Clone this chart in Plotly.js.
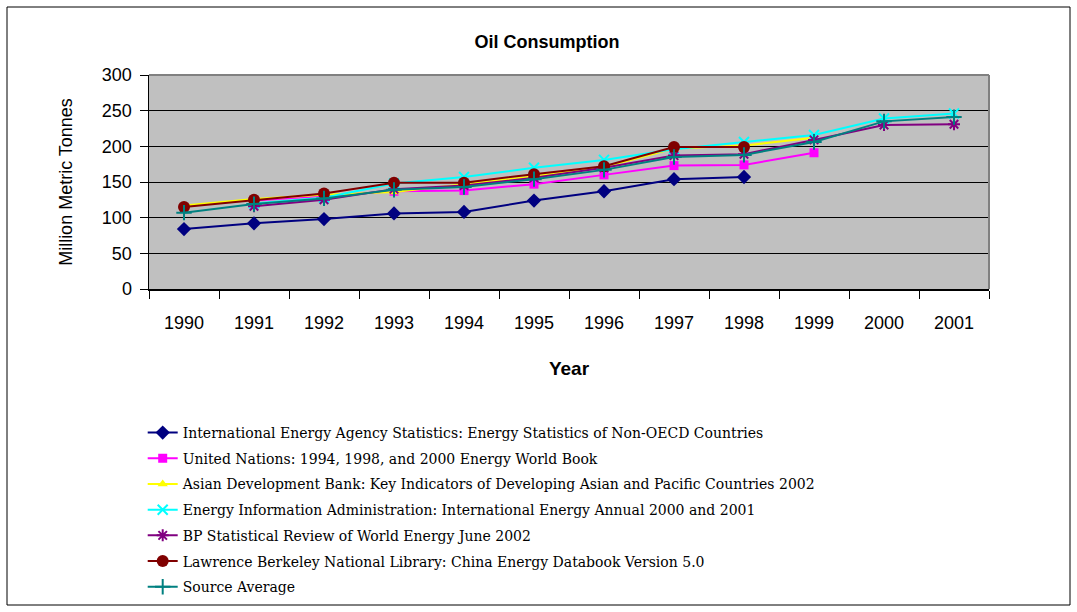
<!DOCTYPE html>
<html>
<head>
<meta charset="utf-8">
<script src="https://cdn.plot.ly/plotly-3.0.1.min.js"></script>
<style>html,body{margin:0;padding:0;background:#fff;}#chart{width:1077px;height:612px;}</style>
</head>
<body>
<div id="chart"></div>
<script>
const years = ["1990","1991","1992","1993","1994","1995","1996","1997","1998","1999","2000","2001"];

const seriesNames = [
  "International Energy Agency Statistics: Energy Statistics of Non-OECD Countries",
  "United Nations: 1994, 1998, and 2000 Energy World Book",
  "Asian Development Bank: Key Indicators of Developing Asian and Pacific Countries 2002",
  "Energy Information Administration: International Energy Annual 2000 and 2001",
  "BP Statistical Review of World Energy June 2002",
  "Lawrence Berkeley National Library: China Energy Databook Version 5.0",
  "Source Average"
];

const ieaValues = [84, 92, 98, 106, 108, 124, 137, 154, 157, null, null, null];
const unValues  = [null, 124, 130, 137, 138, 147, 160, 173, 174, 191, null, null];
const adbValues = [117, 126, 132, 136, 147, 158, 171, 197, 201, 212, null, null];
const eiaValues = [null, 120, 128, 148, 157, 170, 181, 196, 206, 216, 239, 246];
const bpValues  = [null, 116, 125, 140, 145, 156, 170, 187, 189, 209, 230, 231];
const lblValues = [115, 125, 134, 149, 149, 161, 172, 199, 199, null, null, null];
const avgValues = [107, 119, 127, 139, 143, 154, 167, 185, 188, 206, 235, 241];

const yTickVals = [0, 50, 100, 150, 200, 250, 300];

const styles = [
  {color:"#000080", symbol:"diamond", size:11, open:false},
  {color:"#FF00FF", symbol:"square", size:9, open:false},
  {color:"#FFFF00", symbol:"triangle-up", size:9, open:false},
  {color:"#00FFFF", symbol:"x-thin-open", size:10, open:true},
  {color:"#800080", symbol:"asterisk-open", size:10, open:true},
  {color:"#800000", symbol:"circle", size:12, open:false},
  {color:"#008080", symbol:"cross-thin-open", size:11, open:true}
];
const allValues = [ieaValues, unValues, adbValues, eiaValues, bpValues, lblValues, avgValues];

const traces = allValues.map((vals, i) => {
  const s = styles[i];
  return {
    type: "scatter",
    mode: "lines+markers",
    x: years,
    y: vals,
    name: seriesNames[i],
    legendgroup: "g" + i,
    connectgaps: false,
    line: {color: s.color, width: 2},
    marker: {
      symbol: s.symbol,
      size: s.size,
      color: s.color,
      line: s.open ? {color: s.color, width: 2} : {width: 0}
    }
  };
});

const sansFam = "Liberation Sans, Arial, sans-serif";
const tickFont = {family: sansFam, size: 18, color: "#000"};

const layout = {
  width: 1077,
  height: 612,
  paper_bgcolor: "#ffffff",
  plot_bgcolor: "#C0C0C0",
  margin: {l: 149, r: 88, t: 75, b: 323, autoexpand: false},
  title: {
    text: "<b>Oil Consumption</b>",
    font: {family: sansFam, size: 18, color: "#000"},
    x: 0.508, xref: "container", xanchor: "center",
    y: 1 - 42/612, yref: "container", yanchor: "middle"
  },
  xaxis: {
    type: "category",
    range: [-0.5, 11.5],
    tickson: "boundaries",
    ticks: "outside",
    ticklen: 8,
    tickcolor: "#000",
    tickwidth: 1,
    showgrid: false,
    showline: true,
    linecolor: "#000",
    linewidth: 1.5,
    tickfont: tickFont,
    ticklabelstandoff: 17,
    title: {text: "<b>Year</b>", font: {family: sansFam, size: 19, color: "#000"}, standoff: 29},
    zeroline: false,
    fixedrange: true
  },
  yaxis: {
    range: [0, 300],
    tickvals: yTickVals,
    ticks: "outside",
    ticklen: 8,
    tickcolor: "#000",
    showgrid: true,
    gridcolor: "#000",
    gridwidth: 1,
    showline: true,
    linecolor: "#000",
    linewidth: 1.5,
    zeroline: false,
    tickfont: tickFont,
    ticklabelstandoff: 4,
    title: {text: "Million Metric Tonnes", font: {family: sansFam, size: 18, color: "#000"}, standoff: 24},
    fixedrange: true
  },
  showlegend: true,
  legend: {
    orientation: "v",
    x: -0.0075, xanchor: "left",
    y: -0.598, yanchor: "top",
    font: {family: "DejaVu Serif, Liberation Serif, serif", size: 14, color: "#000"},
    tracegroupgap: 4.5,
    bgcolor: "rgba(0,0,0,0)",
    borderwidth: 0,
    traceorder: "grouped"
  },
  shapes: [
    {type: "line", xref: "paper", yref: "paper", x0: 0, x1: 1, y0: 1, y1: 1, line: {color: "#808080", width: 2}},
    {type: "line", xref: "paper", yref: "paper", x0: 1, x1: 1, y0: 0, y1: 1, line: {color: "#808080", width: 2}},
    {type: "rect", xref: "paper", yref: "paper", x0: (7-149)/840, x1: (1070-149)/840, y0: (289-605)/214, y1: (289-7)/214, line: {color: "#000", width: 1}, fillcolor: "rgba(0,0,0,0)"}
  ]
};

Plotly.newPlot("chart", traces, layout, {displayModeBar: false, staticPlot: true});
</script>
</body>
</html>
